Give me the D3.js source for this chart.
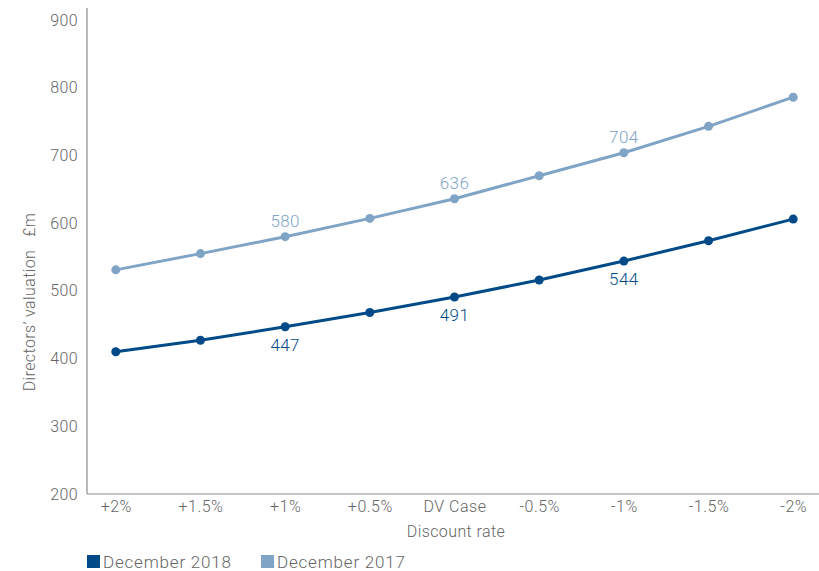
<!DOCTYPE html>
<html>
<head>
<meta charset="utf-8">
<script src="https://cdn.jsdelivr.net/npm/d3@7"></script>
<style>
  body { margin: 0; background: #fff; }
  svg { font-family: Roboto, "Liberation Sans", sans-serif; font-weight: 300; }
</style>
</head>
<body>
<svg id="chart" width="819" height="571"></svg>
<script>
const categories = ['+2%', '+1.5%', '+1%', '+0.5%', 'DV Case', '-0.5%', '-1%', '-1.5%', '-2%'];
const dec2018 = [410, 427, 447, 468, 491, 516, 544, 574, 606];
const dec2017 = [531, 555, 580, 607, 636, 670, 704, 743, 786];
const labelled2018 = ['+1%', 'DV Case', '-1%'];
const labelled2017 = ['+1%', 'DV Case', '-1%'];
const yTicks = [200, 300, 400, 500, 600, 700, 800, 900];

const dark = '#004b87';
const light = '#7fa4c6';
const textCol = '#666';

const svg = d3.select('#chart');

const x = d3.scalePoint()
    .domain(categories)
    .range([87, 822])
    .padding(0.34);

const y = d3.scaleLinear()
    .domain([200, 900])
    .range([494, 20]);

// y axis
const yAxis = svg.append('g')
    .attr('transform', 'translate(87,0)')
    .call(d3.axisLeft(y).tickValues(yTicks).tickSize(0).tickPadding(9));
yAxis.select('.domain').attr('d', 'M0,8V494').attr('stroke', '#8a8a8a').attr('stroke-width', 1.2);
yAxis.selectAll('text').attr('fill', textCol).style('font-size', '16px')
    .style('font-family', 'Roboto, sans-serif').style('font-weight', 300)
    .style('letter-spacing', '0.4px');

// x axis
const xAxis = svg.append('g')
    .attr('transform', 'translate(0,494)')
    .call(d3.axisBottom(x).tickSize(0).tickPadding(7));
xAxis.select('.domain').attr('d', 'M87,0H822').attr('stroke', '#8a8a8a').attr('stroke-width', 1.2);
xAxis.selectAll('text').attr('fill', textCol).style('font-size', '16px')
    .style('font-family', 'Roboto, sans-serif').style('font-weight', 300)
    .style('letter-spacing', '0.5px');

// axis titles
svg.append('text')
    .attr('x', 456).attr('y', 537)
    .attr('text-anchor', 'middle')
    .attr('fill', textCol).style('font-size', '16px')
    .style('letter-spacing', '0.4px')
    .text('Discount rate');

svg.append('text')
    .attr('transform', 'translate(35,302) rotate(-90)')
    .attr('text-anchor', 'middle')
    .attr('fill', textCol).style('font-size', '16px')
    .style('letter-spacing', '0.4px')
    .text('Directors\u2019 valuation\u00a0\u00a0\u00a0£m');

const line = d3.line()
    .x((d, i) => x(categories[i]))
    .y(d => y(d));

const series = [
    { name: 'December 2017', values: dec2017, color: light, labels: labelled2017, dy: -10 },
    { name: 'December 2018', values: dec2018, color: dark, labels: labelled2018, dy: 24 }
];

series.forEach(s => {
    svg.append('path')
        .datum(s.values)
        .attr('fill', 'none')
        .attr('stroke', s.color)
        .attr('stroke-width', 3)
        .attr('d', line);

    svg.append('g').selectAll('circle')
        .data(s.values)
        .join('circle')
        .attr('cx', (d, i) => x(categories[i]))
        .attr('cy', d => y(d))
        .attr('r', 4.5)
        .attr('fill', s.color);

    svg.append('g').selectAll('text')
        .data(s.values.map((v, i) => ({ v, c: categories[i] })).filter(d => s.labels.includes(d.c)))
        .join('text')
        .attr('x', d => x(d.c))
        .attr('y', d => y(d.v) + s.dy)
        .attr('text-anchor', 'middle')
        .attr('fill', s.color)
        .style('font-size', '17px')
        .style('letter-spacing', '0.4px')
        .text(d => d.v);
});

// legend
const legendItems = [
    { name: 'December 2018', color: dark, x: 87 },
    { name: 'December 2017', color: light, x: 261 }
];
const legend = svg.append('g').selectAll('g')
    .data(legendItems)
    .join('g')
    .attr('transform', d => `translate(${d.x},555)`);
legend.append('rect')
    .attr('width', 13).attr('height', 13)
    .attr('fill', d => d.color);
legend.append('text')
    .attr('x', 16).attr('y', 13)
    .attr('fill', textCol)
    .style('font-size', '17px')
    .style('letter-spacing', '0.8px')
    .text(d => d.name);
</script>
</body>
</html>
